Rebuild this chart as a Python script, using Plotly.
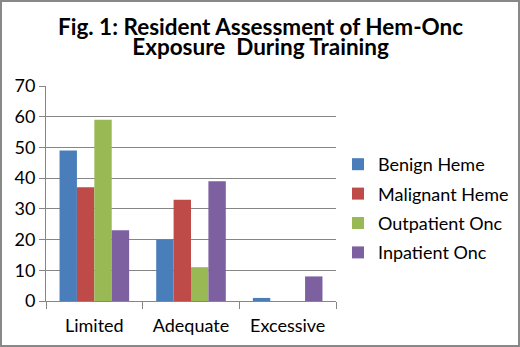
import plotly.graph_objects as go

categories = ["Limited", "Adequate", "Excessive"]
series_names = ["Benign Heme", "Malignant Heme", "Outpatient Onc", "Inpatient Onc"]
benign_heme = [49, 20, 1]
malignant_heme = [37, 33, 0]
outpatient_onc = [59, 11, 0]
inpatient_onc = [23, 39, 8]
colors = ["#4a7ebb", "#be4b48", "#98b954", "#7d60a0"]
y_ticks = [0, 10, 20, 30, 40, 50, 60, 70]
title_lines = ["Fig. 1: Resident Assessment of Hem-Onc", "Exposure  During Training"]

W, H = 520, 347
L, R, T, B = 46, 184, 86, 46
FONT = "Lato, Open Sans, sans-serif"

fig = go.Figure()
for name, vals, c in zip(series_names, [benign_heme, malignant_heme, outpatient_onc, inpatient_onc], colors):
    fig.add_trace(go.Bar(x=categories, y=vals, name=name, legendgroup=name,
                         marker=dict(color=c, line=dict(width=0))))

pw = W - L - R
ph = H - T - B

def py(pix):
    return 1 + (T - pix) / ph

title_text = "<br>".join("<b><span style='font-size:22.5px'>%s</span></b>" % t for t in title_lines)
annotations = [
    dict(text=title_text, xref="paper", yref="paper", x=(W / 2 - L) / pw, y=py(36.5),
         xanchor="center", yanchor="middle", showarrow=False,
         font=dict(size=15, family=FONT, color="#000")),
]

fig.update_layout(
    width=W, height=H,
    margin=dict(l=L, r=R, t=T, b=B, autoexpand=False),
    paper_bgcolor="white", plot_bgcolor="white",
    barmode="group", bargap=0.28, bargroupgap=0,
    font=dict(family=FONT, color="#000000", size=18),
    annotations=annotations,
    legend=dict(x=(338 - L) / pw, y=py(146), xanchor="left", yanchor="top",
                font=dict(size=18), tracegroupgap=3, itemwidth=30, bgcolor="rgba(0,0,0,0)"),
    showlegend=True,
    xaxis=dict(showline=True, linecolor="#868686", linewidth=1, ticks="outside", tickson="boundaries",
               ticklen=7, tickcolor="#868686", tickfont=dict(size=18), showgrid=False,
               ticklabelstandoff=8),
    yaxis=dict(range=[0, 70], tickvals=y_ticks, showline=True, linecolor="#868686", linewidth=1,
               ticks="outside", ticklen=6, tickcolor="#868686", showgrid=True, gridcolor="#868686",
               gridwidth=1, tickfont=dict(size=18), zeroline=False),
    shapes=[dict(type="rect", xref="paper", yref="paper",
                 x0=-(L - 1) / pw, x1=(W - L - 1) / pw, y0=-(B - 1) / ph, y1=(H - B - 1) / ph,
                 line=dict(color="#888888", width=2), fillcolor="rgba(0,0,0,0)", layer="above")],
)
fig.write_html("out.html", config={"displayModeBar": False},
               post_script="document.body.style.margin='0';")
